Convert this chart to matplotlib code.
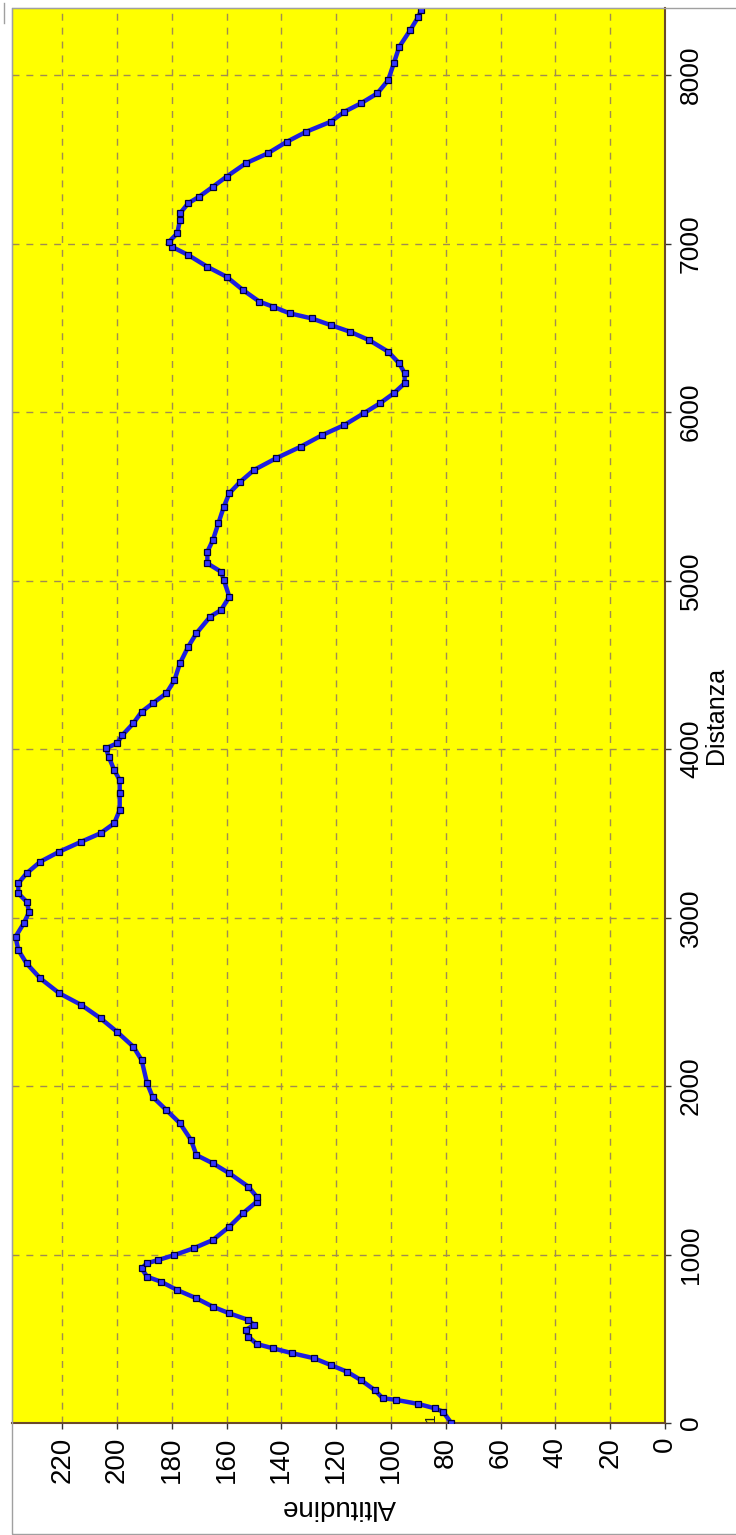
import numpy as np
import matplotlib.pyplot as plt
from matplotlib.patches import Rectangle
from matplotlib.lines import Line2D

# ============================
# DATA (profilo altimetrico)
# ============================
distanza = [0, 67, 87, 113, 137, 147, 196, 255, 304, 344, 384, 414, 443, 469,
            512, 552, 582, 611, 651, 690, 740, 789, 839, 868, 918, 948, 967,
            997, 1037, 1086, 1165, 1245, 1313, 1343, 1402, 1482, 1541, 1590,
            1680, 1779, 1858, 1936, 2016, 2154, 2233, 2322, 2402, 2481, 2550,
            2639, 2728, 2807, 2886, 2966, 3034, 3094, 3144, 3203, 3262, 3331,
            3391, 3450, 3500, 3559, 3638, 3737, 3816, 3875, 3954, 4004, 4034,
            4083, 4153, 4221, 4271, 4330, 4409, 4509, 4607, 4687, 4785, 4825,
            4904, 5003, 5052, 5102, 5171, 5240, 5339, 5438, 5518, 5586, 5656,
            5725, 5794, 5864, 5923, 5992, 6052, 6111, 6171, 6230, 6289, 6358,
            6427, 6477, 6516, 6556, 6586, 6625, 6655, 6724, 6803, 6862, 6932,
            6981, 7011, 7060, 7139, 7179, 7239, 7278, 7337, 7397, 7476, 7535,
            7604, 7663, 7723, 7782, 7832, 7891, 7970, 8069, 8167, 8266, 8346,
            8386]

altitudine = [78, 81, 84, 90, 98, 103, 106, 111, 116, 122, 128, 136, 143, 149,
              152, 153, 150, 152, 159, 165, 171, 178, 184, 189, 191, 189, 185,
              179, 172, 165, 159, 154, 149, 149, 152, 159, 165, 171,
              173, 177, 182, 187, 189, 191, 194, 200, 206, 213, 221,
              228, 233, 236, 237, 234, 232, 233, 236, 236, 233, 228,
              221, 213, 206, 201, 199, 199, 199, 201, 203, 204, 200,
              198, 194, 191, 187, 182, 179, 177, 174, 171, 166, 162,
              159, 161, 162, 167, 167, 165, 163, 161, 159, 155, 150,
              142, 133, 125, 117, 110, 104, 99, 95, 95, 97, 101,
              108, 115, 122, 129, 137, 143, 148, 154, 160, 167, 174,
              180, 181, 178, 177, 177, 174, 170, 165, 160, 153, 145,
              138, 131, 122, 117, 111, 105, 101, 99, 97, 93, 90,
              89]

alt_ticks = list(range(0, 221, 20))
dist_ticks = list(range(0, 8001, 1000))

# ============================
# PLOT (grafico ruotato di 90 gradi)
# ============================
plt.rcParams['font.family'] = ['Liberation Sans', 'DejaVu Sans']

fig = plt.figure(figsize=(7.36, 15.35), dpi=100)
ax = fig.add_axes([12 / 736, 1 - 1423 / 1535, (665 - 12) / 736, (1423 - 8) / 1535])
ax.set_facecolor('#ffff00')

ax.plot(altitudine, distanza, color='#1e1ee0', lw=3.2, marker='s', ms=4,
        mfc='#3535ff', mec='#000033', mew=0.9, zorder=3)
ax.text(85.6, 30, "1", rotation=90, fontsize=11, ha='center', va='center',
        color='#222222', zorder=4)

ax.set_xlim(238.3, 0)
ax.set_ylim(0, 8398)

ax.set_xticks(alt_ticks)
ax.set_xticklabels([str(v) for v in alt_ticks], rotation=90, fontsize=20)
ax.yaxis.tick_right()
ax.yaxis.set_label_position('right')
ax.set_yticks(dist_ticks)
ax.set_yticklabels([str(v) for v in dist_ticks], rotation=90, fontsize=19,
                   va='center')

ax.tick_params(axis='both', direction='out', length=4, width=1, color='#333333')
ax.tick_params(axis='x', pad=6)
ax.tick_params(axis='y', pad=6)

ax.set_xlabel("Altitudine", rotation=180, fontsize=20, labelpad=8)
ax.set_ylabel("Distanza", rotation=90, fontsize=18, labelpad=1)

ax.grid(True, color='#a08c50', linestyle=(0, (5, 5)), linewidth=1)
ax.set_axisbelow(True)

for side in ['left', 'top']:
    ax.spines[side].set_color('#707070')
for side in ['right', 'bottom']:
    ax.spines[side].set_color('#6b4a2a')
    ax.spines[side].set_linewidth(1.5)

# cornice esterna
fig.add_artist(Rectangle((12 / 736, 1 / 1535), 1.0, 1 - 9 / 1535,
                         transform=fig.transFigure, fill=False,
                         edgecolor='#a0a0a0', lw=1))
fig.add_artist(Line2D([4 / 736, 4 / 736], [1 - 3 / 1535, 1 - 23 / 1535],
                      transform=fig.transFigure, color='#a0a0a0', lw=1))

fig.savefig("out.png", dpi=100, facecolor='white')
